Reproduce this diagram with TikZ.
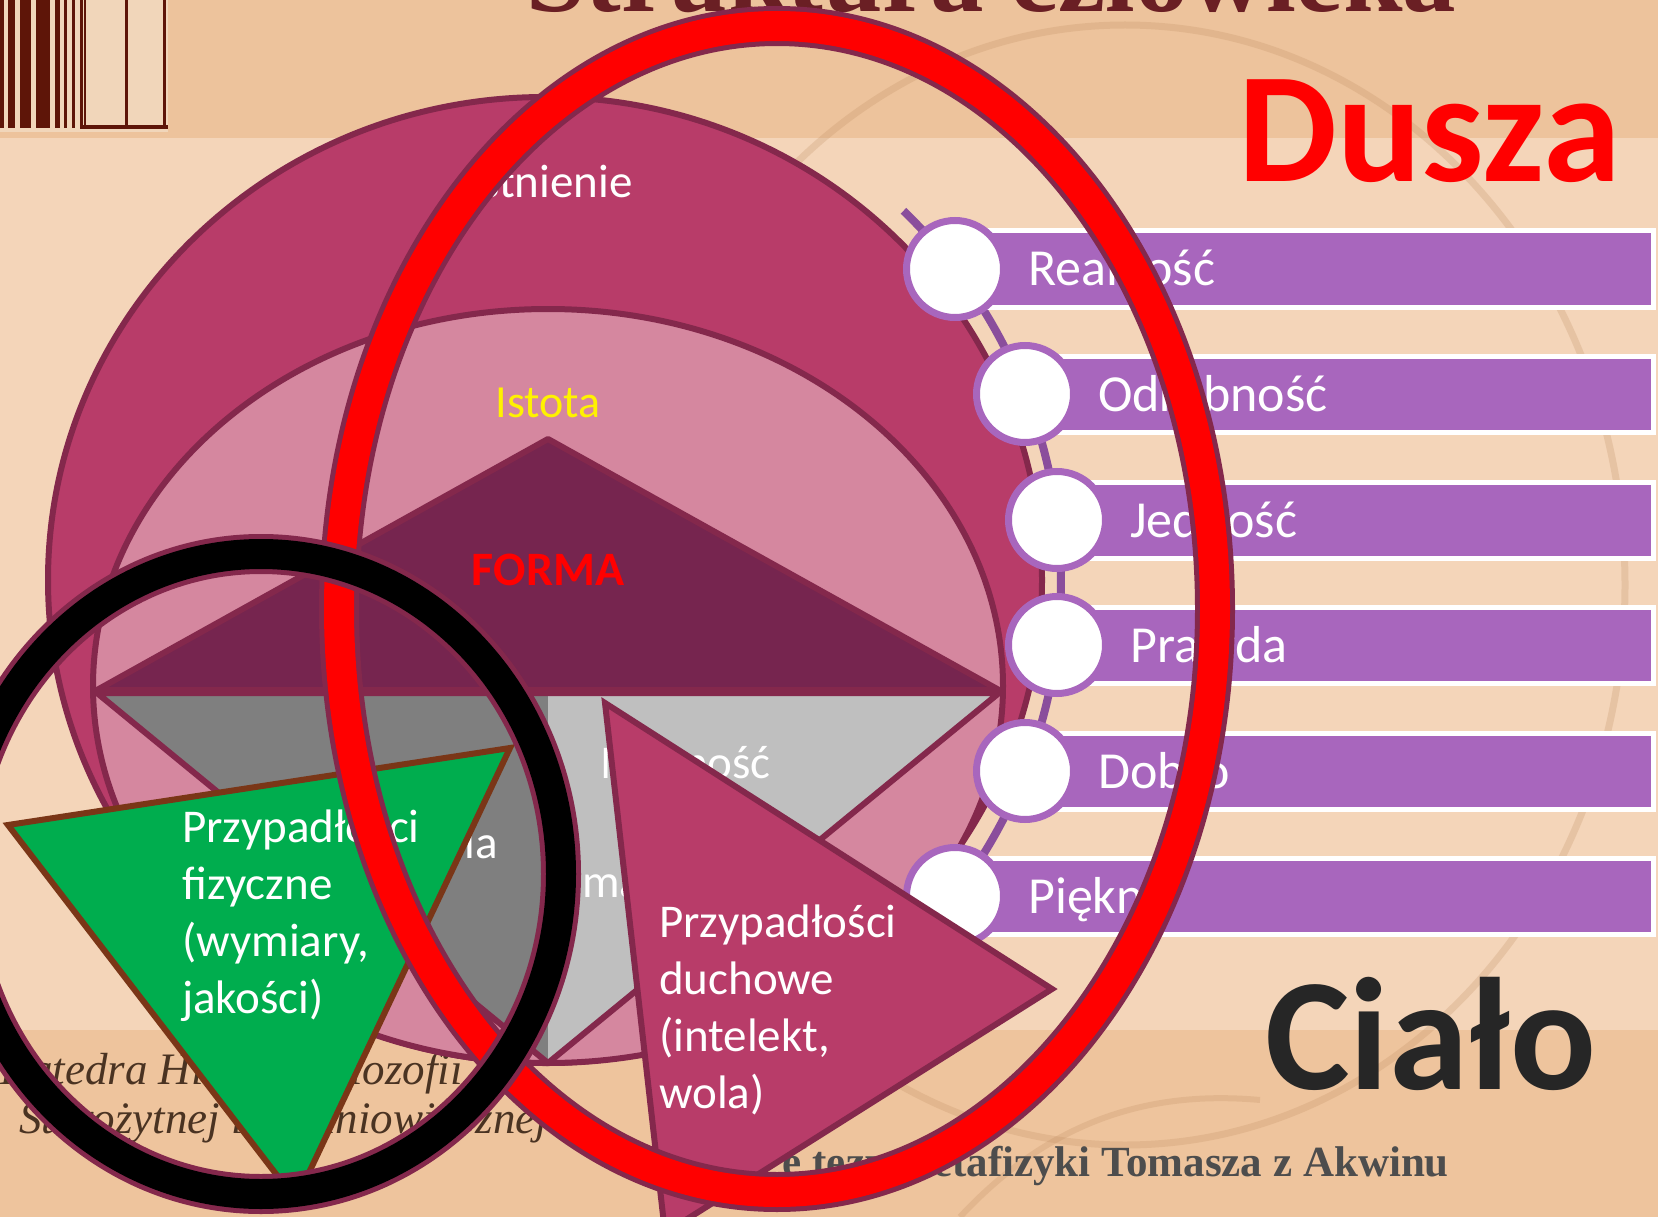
\documentclass[tikz,border=0pt]{standalone}
\usepackage{fontspec}
\setmainfont{Carlito}
\newfontfamily\lserif{Liberation Serif}
\definecolor{bgtop}{HTML}{EDC39C}
\definecolor{bgmid}{HTML}{F4D5B9}
\definecolor{bgbot}{HTML}{EEC49D}
\definecolor{pinkdark}{HTML}{B83C69}
\definecolor{pinklight}{HTML}{D5879F}
\definecolor{bord}{HTML}{84284C}
\definecolor{formac}{HTML}{76254F}
\definecolor{graydk}{HTML}{7F7F7F}
\definecolor{graylt}{HTML}{BFBFBF}
\definecolor{greenc}{HTML}{00AD4E}
\definecolor{greenb}{HTML}{7A3617}
\definecolor{barc}{HTML}{A866BD}
\definecolor{arcc}{HTML}{8A4E9C}
\definecolor{titlec}{HTML}{6A1F24}
\definecolor{decor}{HTML}{C08E62}
\definecolor{cream}{HTML}{F1D6BA}
\definecolor{darkbr}{HTML}{5E1508}
\definecolor{ciaoc}{HTML}{262626}
\definecolor{subc}{HTML}{4D4D4D}
\definecolor{katc}{HTML}{4A3322}
\begin{document}
\begin{tikzpicture}[x=1pt,y=-1pt,
  blob/.style={line width=6pt, draw=bord, line join=round},
  ringb/.style={line width=40pt, draw=bord},
  txt/.style={text=white, inner sep=0pt, font=\fontsize{47pt}{57pt}\selectfont},
  lab/.style={text=white, inner sep=0pt, anchor=base west, font=\fontsize{52pt}{60pt}\selectfont},
  barbox/.style={rectangle, fill=barc, draw=white, line width=5pt, minimum height=76pt, inner sep=0pt, anchor=west},
  dot/.style={circle, fill=white, draw=barc, line width=7pt, minimum size=97pt, inner sep=0pt},
  kat/.style={text=katc, inner sep=0pt, anchor=base west, font=\lserif\itshape\fontsize{45pt}{50pt}\selectfont}]
\useasboundingbox (0,0) rectangle (1658,1217);
\clip (0,0) rectangle (1658,1217);
% background
\fill[bgmid] (0,0) rectangle (1658,1217);
\fill[bgtop] (0,0) rectangle (1658,138);
\fill[bgbot] (0,1030) rectangle (1658,1217);
\draw[decor, opacity=.25, line width=7pt] (1125,585) ellipse [x radius=500, y radius=560];
\draw[decor, opacity=.25, line width=6pt] (960,1217) .. controls (1050,1120) and (1150,1090) .. (1260,1100);
% top-left picture
\fill[cream] (0,0) rectangle (168,132);
\foreach \a/\b in {0/4,8/15,20/31,36/50,55/60,64/67,72/75,80/83,84/86,125/128,163/166}{
  \fill[darkbr] (\a,0) rectangle (\b,128);
}
\fill[darkbr] (80,125) rectangle (168,129);
% title
\node[font=\lserif\bfseries\fontsize{107pt}{107pt}\selectfont, text=titlec, anchor=base west, inner sep=0pt] (title) at (526,12) {Struktura człowieka};
% footer texts
\node[kat] (kat1) at (0,1084) {Katedra Historii Filozofii};
\node[kat] (kat2) at (19,1133) {Starożytnej i Średniowiecznej};
\node[font=\lserif\bfseries\fontsize{43pt}{43pt}\selectfont, text=subc, anchor=base east, inner sep=0pt] (sub) at (1449,1176) {e tezy metafizyki Tomasza z Akwinu};
% nested shapes
\draw[blob, fill=pinkdark] (545,580) ellipse [x radius=497, y radius=483];
\draw[blob, fill=pinklight] (548,686) ellipse [x radius=455, y radius=377];
\node[txt, anchor=base] (istn) at (551,198) {Istnienie};
\node[txt, anchor=base, text=yellow, font=\fontsize{46pt}{57pt}\selectfont] (isto) at (548,417) {Istota};
\draw[blob, fill=formac] (97,690) -- (548,439) -- (999,690) -- cycle;
\node[txt, anchor=base, text=red, font=\bfseries\fontsize{48pt}{57pt}\selectfont] (forma) at (548,585) {FORMA};
\fill[graydk] (97,693) -- (548,693) -- (548,1063) -- cycle;
\fill[graylt] (548,693) -- (999,693) -- (548,1063) -- cycle;
\draw[blob] (97,693) -- (999,693) -- (548,1063) -- cycle;
\node[txt, anchor=base east] (mat) at (498,858) {Materia};
\node[txt, anchor=base west] (moz) at (600,778) {Możność};
\node[txt, anchor=base west] (matl) at (582,897) {materialna};
% transcendentals
\draw[arcc, line width=8pt] (545,582) ++(-46:516) arc[start angle=-46, end angle=40, radius=516];
\foreach \cx/\cy/\t [count=\i] in {955/269/Realność, 1025/394/Odrębność, 1057/520/Jedność, 1057/645/Prawda, 1025/771/Dobro, 955/896/Piękno}{
  \node[barbox, minimum width={1651-\cx}] (bar\i) at (\cx,\cy) {};
  \node[lab] (lab\i) at (\cx+73,\cy+17) {\t};
  \node[dot] (dot\i) at (\cx,\cy) {};
}
% accidents
\draw[line width=6pt, draw=greenb, fill=greenc, line join=miter] (8,825) -- (510,748) -- (296,1200) -- cycle;
\node[txt, align=left, anchor=north west] (fiz) at (182,802) {\strut Przypadłości\\fizyczne\\(wymiary,\\jakości)};
\draw[blob, fill=pinkdark, line join=miter] (605,703) -- (1052,989) -- (665,1233) -- cycle;
\node[txt, align=left, anchor=north west] (duch) at (659,897) {\strut Przypadłości\\duchowe\\(intelekt,\\wola)};
% rings
\draw[ringb] (777,609) ellipse [x radius=438, y radius=583];
\draw[red, line width=30pt] (777,609) ellipse [x radius=438, y radius=583];
\draw[ringb] (261,874) ellipse [x radius=300, y radius=320];
\draw[black, line width=30pt] (261,874) ellipse [x radius=300, y radius=320];
% big words
\node[font=\bfseries\fontsize{157pt}{160pt}\selectfont, text=red, anchor=base west, inner sep=0pt] (dusza) at (1238,182) {Dusza};
\node[font=\bfseries\fontsize{160pt}{160pt}\selectfont, text=ciaoc, anchor=base west, inner sep=0pt] (cialo) at (1265,1089) {Ciało};
\end{tikzpicture}
\end{document}
